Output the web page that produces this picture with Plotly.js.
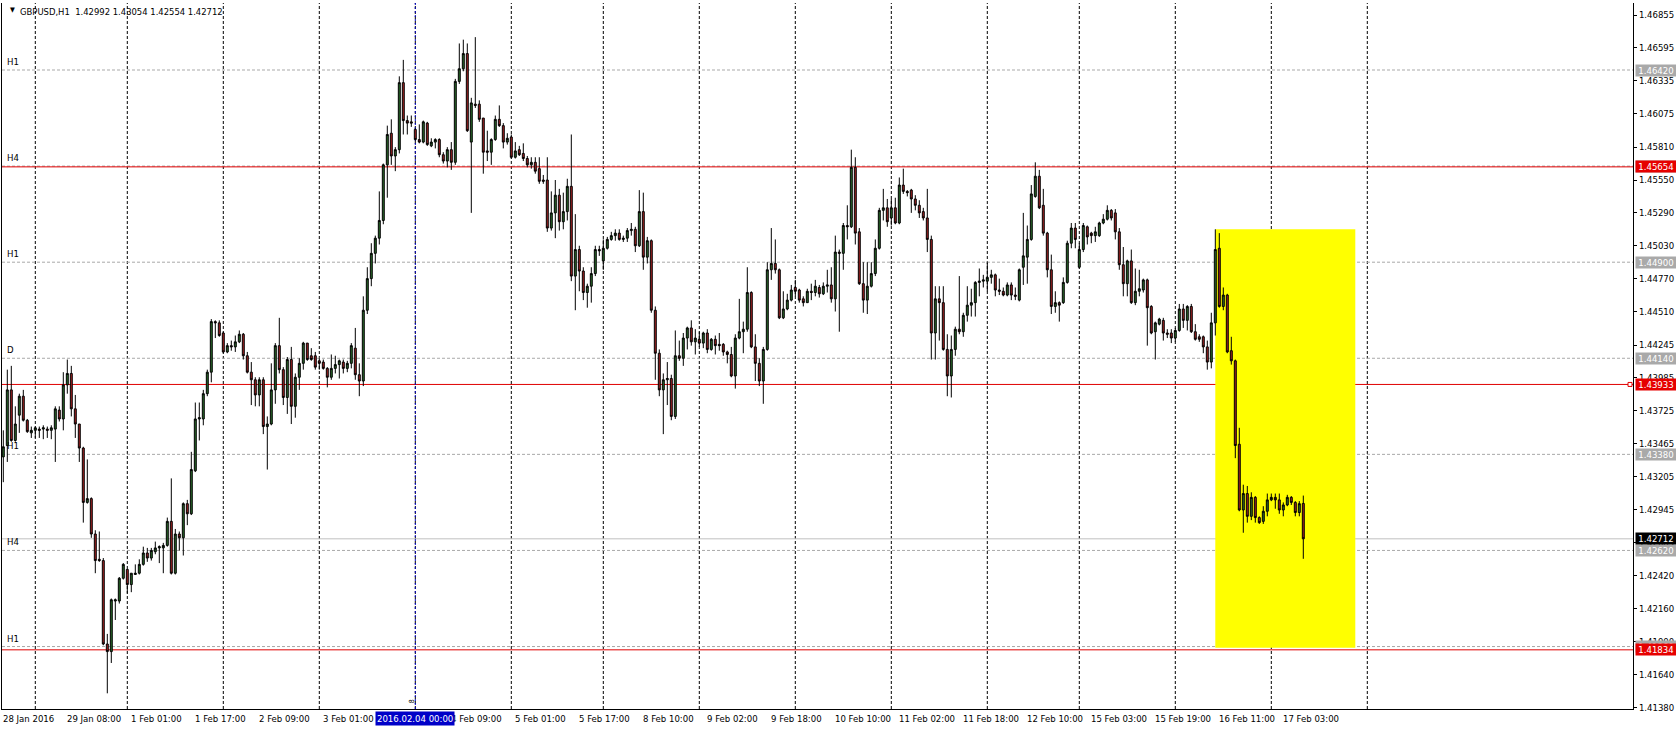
<!DOCTYPE html>
<html><head><meta charset="utf-8">
<script src="https://cdn.plot.ly/plotly-3.0.1.min.js"></script>
<style>html,body{margin:0;padding:0;background:#fff;}#chart{width:1676px;height:731px;}</style>
</head><body><div id="chart"></div>
<script>
// ---- GBPUSD H1 candles (bar index 0 = first visible bar) ----
const opens = [
1.4336,1.4345,1.4389,1.4349,1.4369,1.4384,1.4365,1.4355,1.4357,1.4358,
1.4358,1.4358,1.4357,1.4358,1.4373,1.4366,1.4393,1.4402,1.4374,1.4362,
1.4343,1.4300,1.4303,1.4275,1.4255,1.4254,1.4188,1.4182,1.4222,1.4222,
1.4240,1.4247,1.4235,1.4243,1.4244,1.4251,1.4260,1.4256,1.4261,1.4264,
1.4264,1.4266,1.4285,1.4244,1.4275,1.4272,1.4299,1.4291,1.4325,1.4366,
1.4366,1.4386,1.4403,1.4443,1.4442,1.4434,1.4419,1.4424,1.4423,1.4427,
1.4433,1.4416,1.4403,1.4397,1.4385,1.4397,1.4360,1.4362,1.4389,1.4424,
1.4405,1.4383,1.4413,1.4376,1.4399,1.4410,1.4426,1.4416,1.4416,1.4412,
1.4411,1.4406,1.4399,1.4406,1.4409,1.4411,1.4406,1.4410,1.4422,1.4401,
1.4396,1.4452,1.4477,1.4497,1.4509,1.4523,1.4567,1.4592,1.4574,1.4579,
1.4632,1.4602,1.4601,1.4595,1.4587,1.4585,1.4600,1.4582,1.4585,1.4587,
1.4575,1.4570,1.4579,1.4569,1.4633,1.4643,1.4655,1.4585,1.4615,1.4615,
1.4604,1.4578,1.4577,1.4587,1.4603,1.4598,1.4585,1.4589,1.4573,1.4579,
1.4576,1.4572,1.4567,1.4569,1.4564,1.4555,1.4555,1.4517,1.4529,1.4543,
1.4522,1.4530,1.4550,1.4479,1.4500,1.4483,1.4466,1.4471,1.4481,1.4500,
1.4491,1.4501,1.4508,1.4511,1.4513,1.4508,1.4509,1.4515,1.4516,1.4503,
1.4530,1.4494,1.4507,1.4452,1.4418,1.4389,1.4397,1.4398,1.4368,1.4416,
1.4414,1.4430,1.4438,1.4427,1.4429,1.4426,1.4434,1.4421,1.4429,1.4425,
1.4425,1.4419,1.4417,1.4400,1.4430,1.4435,1.4437,1.4466,1.4423,1.4410,
1.4396,1.4421,1.4484,1.4489,1.4484,1.4446,1.4453,1.4460,1.4470,1.4468,
1.4461,1.4458,1.4467,1.4466,1.4470,1.4465,1.4471,1.4472,1.4461,1.4498,
1.4497,1.4519,1.4518,1.4565,1.4514,1.4473,1.4460,1.4471,1.4481,1.4501,
1.4531,1.4533,1.4525,1.4533,1.4521,1.4551,1.4546,1.4547,1.4540,1.4535,
1.4530,1.4525,1.4508,1.4434,1.4461,1.4458,1.4421,1.4400,1.4421,1.4437,
1.4435,1.4448,1.4456,1.4458,1.4474,1.4475,1.4475,1.4478,1.4480,1.4468,
1.4467,1.4464,1.4472,1.4464,1.4460,1.4486,1.4494,1.4508,1.4542,1.4558,
1.4535,1.4513,1.4484,1.4455,1.4458,1.4458,1.4474,1.4505,1.4517,1.4486,
1.4500,1.4518,1.4513,1.4511,1.4511,1.4521,1.4524,1.4531,1.4529,1.4514,
1.4488,1.4473,1.4491,1.4458,1.4467,1.4468,1.4476,1.4455,1.4435,1.4441,
1.4444,1.4434,1.4434,1.4430,1.4436,1.4453,1.4444,1.4455,1.4435,1.4431,
1.4431,1.4423,1.4411,1.4442,1.4501,1.4455,1.4464,1.4420,1.4412,1.4346,
1.4294,1.4307,1.4289,1.4304,1.4288,1.4285,1.4293,1.4302,1.4304,1.4302,
1.4294,1.4298,1.4304,1.4300,1.4292,1.42992];
const highs = [
1.4357,1.4405,1.4408,1.4376,1.4386,1.4389,1.4366,1.4360,1.4360,1.4360,
1.4361,1.4360,1.4361,1.4376,1.4376,1.4403,1.4413,1.4408,1.4385,1.4362,
1.4344,1.4334,1.4304,1.4278,1.4277,1.4256,1.4196,1.4224,1.4224,1.4241,
1.4252,1.4247,1.4244,1.4251,1.4255,1.4265,1.4264,1.4264,1.4269,1.4266,
1.4268,1.4288,1.4319,1.4279,1.4277,1.4300,1.4302,1.4340,1.4379,1.4379,
1.4389,1.4405,1.4445,1.4444,1.4444,1.4435,1.4426,1.4428,1.4432,1.4436,
1.4434,1.4419,1.4411,1.4399,1.4399,1.4399,1.4368,1.4410,1.4426,1.4446,
1.4407,1.4415,1.4423,1.4402,1.4414,1.4427,1.4426,1.4422,1.4419,1.4414,
1.4413,1.4407,1.4417,1.4416,1.4413,1.4413,1.4412,1.4426,1.4438,1.4410,
1.4463,1.4486,1.4505,1.4511,1.4546,1.4568,1.4598,1.4603,1.4581,1.4637,
1.4650,1.4606,1.4606,1.4596,1.4599,1.4602,1.4601,1.4588,1.4588,1.4588,
1.4577,1.4581,1.4585,1.4635,1.4663,1.4666,1.4663,1.4620,1.4668,1.4618,
1.4604,1.4594,1.4588,1.4606,1.4614,1.4600,1.4592,1.4591,1.4585,1.4582,
1.4584,1.4574,1.4573,1.4573,1.4573,1.4559,1.4573,1.4546,1.4555,1.4548,
1.4545,1.4556,1.4591,1.4528,1.4503,1.4486,1.4473,1.4486,1.4503,1.4503,
1.4508,1.4510,1.4514,1.4516,1.4516,1.4511,1.4517,1.4521,1.4518,1.4547,
1.4545,1.4510,1.4508,1.4455,1.4421,1.4402,1.4411,1.4401,1.4436,1.4428,
1.4434,1.4439,1.4444,1.4437,1.4435,1.4435,1.4437,1.4430,1.4432,1.4434,
1.4426,1.4420,1.4423,1.4433,1.4461,1.4443,1.4486,1.4467,1.4433,1.4414,
1.4423,1.4490,1.4517,1.4508,1.4485,1.4467,1.4465,1.4472,1.4476,1.4469,
1.4463,1.4469,1.4473,1.4476,1.4472,1.4474,1.4484,1.4486,1.4511,1.4500,
1.4521,1.4535,1.4579,1.4573,1.4517,1.4490,1.4490,1.4490,1.4508,1.4533,
1.4548,1.4540,1.4540,1.4541,1.4557,1.4564,1.4547,1.4548,1.4543,1.4539,
1.4533,1.4548,1.4511,1.4471,1.4471,1.4471,1.4433,1.4432,1.4439,1.4479,
1.4450,1.4471,1.4469,1.4475,1.4485,1.4480,1.4490,1.4484,1.4481,1.4477,
1.4470,1.4474,1.4474,1.4470,1.4485,1.4529,1.4519,1.4551,1.4569,1.4563,
1.4548,1.4514,1.4496,1.4467,1.4459,1.4478,1.4507,1.4521,1.4521,1.4505,
1.4521,1.4519,1.4514,1.4518,1.4522,1.4528,1.4535,1.4532,1.4532,1.4517,
1.4502,1.4492,1.4500,1.4485,1.4484,1.4477,1.4477,1.4456,1.4443,1.4446,
1.4446,1.4437,1.4437,1.4438,1.4457,1.4457,1.4456,1.4457,1.4441,1.4433,
1.4432,1.4428,1.4450,1.4516,1.4513,1.4470,1.4465,1.4431,1.4413,1.4359,
1.4314,1.4313,1.4308,1.4305,1.4289,1.4297,1.4307,1.4307,1.4307,1.4307,
1.4300,1.4306,1.4305,1.4301,1.4301,1.43054];
const lows = [
1.4316,1.4332,1.4348,1.4348,1.4355,1.4364,1.4355,1.4351,1.4351,1.4351,
1.4350,1.4351,1.4350,1.4332,1.4364,1.4357,1.4386,1.4368,1.4351,1.4332,
1.4284,1.4299,1.4272,1.4244,1.4253,1.4187,1.4149,1.4173,1.4207,1.4220,
1.4239,1.4228,1.4229,1.4243,1.4243,1.4250,1.4253,1.4254,1.4259,1.4252,
1.4244,1.4265,1.4243,1.4243,1.4262,1.4258,1.4282,1.4290,1.4324,1.4349,
1.4361,1.4384,1.4395,1.4430,1.4431,1.4418,1.4418,1.4420,1.4419,1.4426,
1.4413,1.4402,1.4377,1.4376,1.4376,1.4354,1.4326,1.4361,1.4378,1.4402,
1.4377,1.4370,1.4362,1.4367,1.4389,1.4405,1.4412,1.4412,1.4405,1.4405,
1.4405,1.4391,1.4397,1.4402,1.4398,1.4402,1.4403,1.4406,1.4397,1.4384,
1.4392,1.4449,1.4471,1.4489,1.4504,1.4520,1.4541,1.4567,1.4562,1.4576,
1.4591,1.4591,1.4597,1.4586,1.4584,1.4584,1.4582,1.4581,1.4580,1.4573,
1.4568,1.4565,1.4563,1.4567,1.4631,1.4641,1.4593,1.4529,1.4612,1.4601,
1.4560,1.4570,1.4567,1.4586,1.4597,1.4580,1.4583,1.4572,1.4572,1.4574,
1.4570,1.4565,1.4564,1.4560,1.4552,1.4552,1.4514,1.4515,1.4509,1.4515,
1.4516,1.4523,1.4475,1.4452,1.4467,1.4460,1.4454,1.4458,1.4479,1.4495,
1.4484,1.4500,1.4507,1.4507,1.4507,1.4506,1.4506,1.4511,1.4498,1.4502,
1.4484,1.4489,1.4450,1.4397,1.4384,1.4354,1.4377,1.4365,1.4366,1.4412,
1.4408,1.4421,1.4424,1.4417,1.4423,1.4422,1.4418,1.4420,1.4417,1.4420,
1.4416,1.4410,1.4399,1.4390,1.4429,1.4418,1.4435,1.4422,1.4396,1.4392,
1.4378,1.4420,1.4476,1.4481,1.4445,1.4445,1.4452,1.4459,1.4463,1.4458,
1.4455,1.4458,1.4460,1.4463,1.4462,1.4464,1.4466,1.4458,1.4451,1.4435,
1.4484,1.4508,1.4517,1.4504,1.4472,1.4450,1.4449,1.4470,1.4479,1.4500,
1.4523,1.4518,1.4519,1.4520,1.4520,1.4544,1.4542,1.4529,1.4531,1.4525,
1.4523,1.4498,1.4413,1.4413,1.4428,1.4420,1.4384,1.4383,1.4416,1.4433,
1.4431,1.4443,1.4447,1.4447,1.4463,1.4470,1.4467,1.4473,1.4463,1.4464,
1.4463,1.4463,1.4460,1.4460,1.4459,1.4472,1.4473,1.4507,1.4541,1.4532,
1.4511,1.4478,1.4449,1.4450,1.4443,1.4457,1.4473,1.4501,1.4501,1.4485,
1.4498,1.4504,1.4505,1.4506,1.4510,1.4520,1.4523,1.4523,1.4508,1.4484,
1.4463,1.4463,1.4457,1.4456,1.4463,1.4466,1.4424,1.4433,1.4413,1.4440,
1.4428,1.4430,1.4426,1.4427,1.4435,1.4438,1.4436,1.4434,1.4428,1.4427,
1.4418,1.4405,1.4406,1.4432,1.4454,1.4452,1.4418,1.4409,1.4335,1.4293,
1.4276,1.4284,1.4286,1.4284,1.4283,1.4283,1.4289,1.4301,1.4295,1.4291,
1.4289,1.4297,1.4298,1.4289,1.4289,1.42554];
const closes = [
1.4344,1.4389,1.4349,1.4362,1.4384,1.4365,1.4356,1.4357,1.4359,1.4357,
1.4359,1.4357,1.4359,1.4374,1.4366,1.4393,1.4402,1.4374,1.4362,1.4343,
1.4300,1.4303,1.4275,1.4254,1.4254,1.4188,1.4182,1.4223,1.4223,1.4240,
1.4251,1.4235,1.4244,1.4244,1.4251,1.4260,1.4256,1.4262,1.4264,1.4265,
1.4266,1.4285,1.4244,1.4275,1.4272,1.4299,1.4291,1.4326,1.4366,1.4367,
1.4386,1.4403,1.4443,1.4442,1.4432,1.4419,1.4424,1.4423,1.4427,1.4433,
1.4416,1.4403,1.4397,1.4385,1.4397,1.4360,1.4362,1.4389,1.4424,1.4405,
1.4383,1.4413,1.4376,1.4399,1.4410,1.4426,1.4413,1.4413,1.4407,1.4410,
1.4406,1.4399,1.4406,1.4409,1.4412,1.4406,1.4410,1.4424,1.4401,1.4396,
1.4452,1.4477,1.4497,1.4509,1.4523,1.4567,1.4591,1.4574,1.4579,1.4632,
1.4602,1.4600,1.4600,1.4587,1.4585,1.4601,1.4583,1.4585,1.4587,1.4575,
1.4570,1.4579,1.4569,1.4633,1.4643,1.4655,1.4594,1.4616,1.4614,1.4603,
1.4577,1.4577,1.4587,1.4603,1.4598,1.4585,1.4588,1.4573,1.4578,1.4575,
1.4572,1.4567,1.4569,1.4562,1.4554,1.4554,1.4517,1.4529,1.4543,1.4522,
1.4530,1.4550,1.4479,1.4500,1.4483,1.4466,1.4471,1.4481,1.4500,1.4499,
1.4501,1.4508,1.4511,1.4513,1.4508,1.4509,1.4515,1.4516,1.4503,1.4530,
1.4494,1.4507,1.4452,1.4418,1.4389,1.4397,1.4398,1.4368,1.4416,1.4414,
1.4430,1.4438,1.4427,1.4430,1.4426,1.4434,1.4421,1.4429,1.4424,1.4424,
1.4419,1.4417,1.4400,1.4430,1.4435,1.4437,1.4466,1.4423,1.4410,1.4396,
1.4421,1.4484,1.4489,1.4484,1.4446,1.4453,1.4460,1.4468,1.4467,1.4460,
1.4458,1.4467,1.4466,1.4471,1.4465,1.4471,1.4472,1.4461,1.4498,1.4497,
1.4519,1.4518,1.4565,1.4513,1.4473,1.4460,1.4471,1.4481,1.4501,1.4531,
1.4533,1.4522,1.4533,1.4521,1.4551,1.4546,1.4545,1.4540,1.4535,1.4529,
1.4525,1.4508,1.4434,1.4461,1.4458,1.4421,1.4400,1.4421,1.4437,1.4435,
1.4448,1.4456,1.4458,1.4474,1.4475,1.4476,1.4478,1.4480,1.4468,1.4467,
1.4464,1.4472,1.4464,1.4463,1.4484,1.4495,1.4508,1.4544,1.4558,1.4533,
1.4513,1.4484,1.4455,1.4458,1.4456,1.4474,1.4505,1.4517,1.4508,1.4500,
1.4519,1.4510,1.4511,1.4514,1.4521,1.4524,1.4531,1.4525,1.4514,1.4488,
1.4473,1.4491,1.4458,1.4467,1.4469,1.4476,1.4454,1.4434,1.4442,1.4445,
1.4434,1.4433,1.4430,1.4436,1.4453,1.4444,1.4455,1.4435,1.4429,1.4429,
1.4423,1.4411,1.4442,1.4500,1.4455,1.4464,1.4419,1.4412,1.4345,1.4294,
1.4307,1.4289,1.4304,1.4288,1.4284,1.4293,1.4302,1.4304,1.4302,1.4294,
1.4298,1.4304,1.4300,1.4292,1.4299,1.42712];

// ---- time axis ----
const timeLabelBars  = [0,16,32,48,64,80,96,112,128,144,160,176,192,208,224,240,256,272,288,304,320];
const timeLabelTexts = ['28 Jan 2016','29 Jan 08:00','1 Feb 01:00','1 Feb 17:00','2 Feb 09:00','3 Feb 01:00',
  '3 Feb 17:00','4 Feb 09:00','5 Feb 01:00','5 Feb 17:00','8 Feb 10:00','9 Feb 02:00','9 Feb 18:00',
  '10 Feb 10:00','11 Feb 02:00','11 Feb 18:00','12 Feb 10:00','15 Feb 03:00','15 Feb 19:00','16 Feb 11:00','17 Feb 03:00'];
const daySeparatorBars = [8,31,55,79,103,127,150,174,198,222,246,269,293,317,341];
const markerLineBar = 103;
const markerLineText = '2016.02.04 00:00';
const markerLineName = '8';

// ---- price axis ----
const priceTicks = [1.46855,1.46595,1.46335,1.46075,1.45810,1.45550,1.45290,1.45030,1.44770,1.44510,1.44245,
  1.43985,1.43725,1.43465,1.43205,1.42945,1.42685,1.42420,1.42160,1.41900,1.41640,1.41380];
const priceRange = [1.41366, 1.46950];

// ---- levels / objects ----
const levelPrices = [1.46420,1.45660,1.44900,1.44140,1.43380,1.42620,1.41860];
const levelNames  = ['H1','H4','H1','D','H1','H4','H1'];
const redLevels   = [1.45654,1.43933,1.41834];
const squareLevel = 1.43933;
const bidPrice    = 1.42712;
const zoneBars    = [303, 338];
const zonePrices  = [1.4185, 1.4516];
const headerSymbol = 'GBPUSD,H1';
const headerOHLC  = ['1.42992','1.43054','1.42554','1.42712'];

const FONT = '"DejaVu Sans Condensed", "Liberation Sans", Arial, sans-serif';
const barIndex = opens.map((_, i) => i);
const fmt5 = v => v.toFixed(5);

const trace = {
  type: 'candlestick', x: barIndex, open: opens, high: highs, low: lows, close: closes,
  increasing: {line: {color: '#000000', width: 1}, fillcolor: '#2a6a2a'},
  decreasing: {line: {color: '#000000', width: 1}, fillcolor: '#a32222'},
  whiskerwidth: 0, hoverinfo: 'skip', showlegend: false
};

const shapes = [];
shapes.push({type:'rect', xref:'x', yref:'y', x0:zoneBars[0], x1:zoneBars[1], y0:zonePrices[0], y1:zonePrices[1],
  fillcolor:'#ffff00', line:{width:0}, layer:'below'});
daySeparatorBars.forEach(b => shapes.push({type:'line', xref:'x', yref:'paper', x0:b, x1:b, y0:0, y1:1,
  line:{color:'#000000', width:1, dash:'3px,2px'}, layer:'below'}));
levelPrices.forEach(p => shapes.push({type:'line', xref:'paper', yref:'y', x0:0, x1:1, y0:p, y1:p,
  line:{color:'#a9a9a9', width:1, dash:'3px,2px'}, layer:'below'}));
shapes.push({type:'line', xref:'paper', yref:'y', x0:0, x1:1, y0:bidPrice, y1:bidPrice,
  line:{color:'#c0c0c0', width:1}, layer:'below'});
redLevels.forEach(p => shapes.push({type:'line', xref:'paper', yref:'y', x0:0, x1:1, y0:p, y1:p,
  line:{color:'#e00000', width:1}, layer:'below'}));
shapes.push({type:'line', xref:'x', yref:'paper', x0:markerLineBar, x1:markerLineBar, y0:0, y1:1,
  line:{color:'#0000c8', width:1, dash:'2px,2px'}, layer:'below'});
shapes.push({type:'rect', xref:'paper', yref:'y', xsizemode:'pixel', xanchor:1, x0:-5, x1:-1,
  ysizemode:'pixel', yanchor:squareLevel, y0:-2, y1:2, fillcolor:'#ffffff', line:{color:'#e00000', width:1}});

const annotations = [];
annotations.push({xref:'paper', yref:'paper', x:0, y:1, xanchor:'left', yanchor:'top', xshift:6, yshift:-1,
  showarrow:false, align:'left', text:'▼', font:{family:FONT, size:7, color:'#000000'}});
annotations.push({xref:'paper', yref:'paper', x:0, y:1, xanchor:'left', yanchor:'top', xshift:16, yshift:-1,
  showarrow:false, align:'left', text:headerSymbol + '  ' + headerOHLC.join(' '),
  font:{family:FONT, size:9.4, color:'#000000'}});
timeLabelBars.forEach((b, i) => annotations.push({xref:'x', yref:'paper', x:b, y:0, xanchor:'left', yanchor:'top',
  xshift:-2, yshift:-2, showarrow:false, text:timeLabelTexts[i], font:{family:FONT, size:9.5, color:'#000000'}}));
annotations.push({xref:'x', yref:'paper', x:markerLineBar, y:0, xanchor:'center', yanchor:'top', yshift:-2,
  showarrow:false, text:markerLineText, bgcolor:'#0000c8', borderpad:1, font:{family:FONT, size:9.5, color:'#ffffff'}});
annotations.push({xref:'x', yref:'paper', x:markerLineBar, y:0, xanchor:'right', yanchor:'bottom', xshift:3, yshift:4,
  showarrow:false, textangle:-90, text:markerLineName, font:{family:FONT, size:7, color:'#000000'}});
levelPrices.forEach((p, i) => annotations.push({xref:'paper', yref:'y', x:0, y:p, xanchor:'left', yanchor:'bottom',
  xshift:3, yshift:1, showarrow:false, text:levelNames[i], font:{family:FONT, size:9.5, color:'#000000'}}));
const tag = (p, bg) => ({xref:'paper', yref:'y', x:1, y:p, xanchor:'left', yanchor:'middle', xshift:2,
  showarrow:false, text:fmt5(p), bgcolor:bg, width:38, height:9, borderpad:1, align:'center',
  font:{family:FONT, size:9.5, color:'#ffffff'}});
levelPrices.forEach(p => annotations.push(tag(p, '#a9a9a9')));
redLevels.forEach(p => annotations.push(tag(p, '#e60000')));
annotations.push(tag(bidPrice, '#000000'));

const layout = {
  width:1676, height:731, margin:{l:2, r:43, t:3, b:22, pad:0},
  paper_bgcolor:'#ffffff', plot_bgcolor:'#ffffff', showlegend:false, hovermode:false,
  xaxis:{range:[-0.325, 407.425], showgrid:false, zeroline:false, showticklabels:false, ticks:'',
    showline:true, linecolor:'#000000', linewidth:1, rangeslider:{visible:false}, fixedrange:true},
  yaxis:{side:'right', range:priceRange, tickmode:'array', tickvals:priceTicks, ticktext:priceTicks.map(fmt5),
    ticks:'outside', ticklen:3, tickcolor:'#000000', tickfont:{family:FONT, size:9.5, color:'#000000'},
    showgrid:false, zeroline:false, showline:true, linecolor:'#000000', linewidth:1, mirror:true, fixedrange:true},
  shapes:shapes, annotations:annotations
};

Plotly.newPlot('chart', [trace], layout, {staticPlot:true, displayModeBar:false});
</script>
</body></html>
